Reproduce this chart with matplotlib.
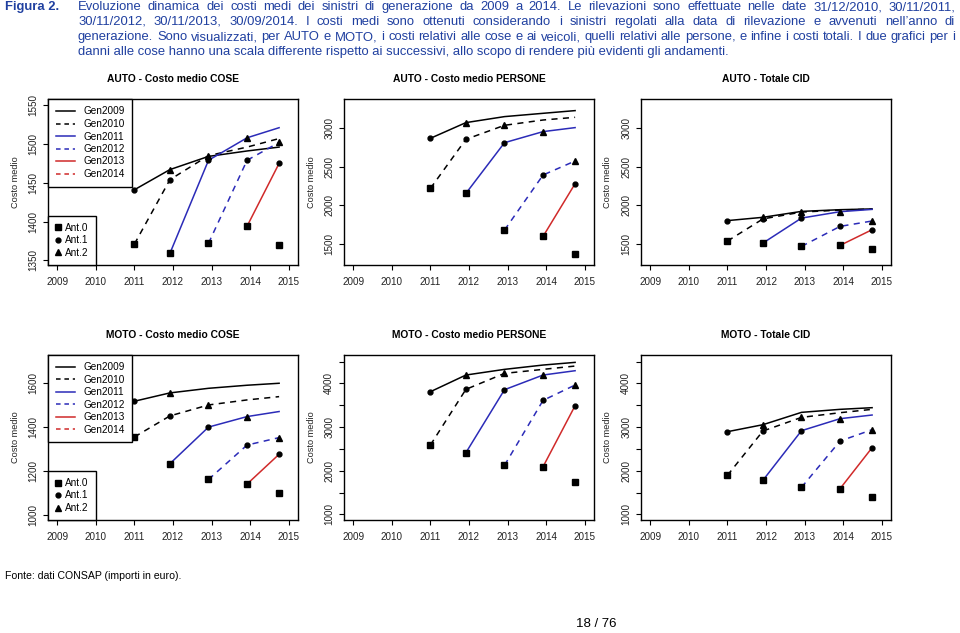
import matplotlib
matplotlib.use('Agg')
import matplotlib.pyplot as plt
from matplotlib.lines import Line2D

plt.rcParams['font.family'] = ['Liberation Sans', 'DejaVu Sans']

# dates of the observations: 31/12/2010, 30/11/2011, 30/11/2012, 30/11/2013, 30/09/2014
obs_dates = [2011.0, 2011.92, 2012.92, 2013.92, 2014.75]
year_ticks = [2009, 2010, 2011, 2012, 2013, 2014, 2015]
generations = ['Gen2009', 'Gen2010', 'Gen2011', 'Gen2012', 'Gen2013', 'Gen2014']
ant_labels = ['Ant.0', 'Ant.1', 'Ant.2']

# average cost per generation, one value per observation (from first observed)
auto_cose = [
    [1441, 1467, 1484, 1491, 1496],
    [1371, 1454, 1485, 1496, 1507],
    [1359, 1479, 1508, 1521],
    [1372, 1479, 1502],
    [1394, 1475],
    [1370],
]
auto_persone = [
    [2870, 3074, 3152, 3195, 3230],
    [2219, 2857, 3039, 3108, 3143],
    [2154, 2813, 2957, 3009],
    [1677, 2393, 2575],
    [1595, 2280],
    [1361],
]
auto_cid = [
    [1800, 1843, 1920, 1942, 1952],
    [1534, 1822, 1911, 1937, 1950],
    [1508, 1833, 1916, 1946],
    [1465, 1725, 1795],
    [1478, 1682],
    [1426],
]
moto_cose = [
    [1518, 1556, 1577, 1591, 1600],
    [1355, 1451, 1501, 1524, 1539],
    [1233, 1400, 1448, 1471],
    [1161, 1318, 1352],
    [1140, 1276],
    [1097],
]
moto_persone = [
    [3809, 4191, 4321, 4420, 4481],
    [2588, 3863, 4229, 4321, 4397],
    [2412, 3855, 4191, 4290],
    [2122, 3611, 3962],
    [2092, 3489],
    [1748],
]
moto_cid = [
    [2893, 3053, 3336, 3405, 3443],
    [1893, 2908, 3221, 3328, 3405],
    [1779, 2916, 3191, 3275],
    [1618, 2679, 2939],
    [1588, 2527],
    [1389],
]

titles = ['AUTO - Costo medio COSE', 'AUTO - Costo medio PERSONE', 'AUTO - Totale CID',
          'MOTO - Costo medio COSE', 'MOTO - Costo medio PERSONE', 'MOTO - Totale CID']
panels = [auto_cose, auto_persone, auto_cid, moto_cose, moto_persone, moto_cid]
ylims = [(1344, 1558), (1223, 3381), (1223, 3381), (976, 1729), (870, 4650), (870, 4650)]
yticks = [[1350, 1400, 1450, 1500, 1550],
          [1500, 2000, 2500, 3000],
          [1500, 2000, 2500, 3000],
          [1000, 1200, 1400, 1600],
          [1000, 1500, 2000, 2500, 3000, 3500, 4000, 4500],
          [1000, 1500, 2000, 2500, 3000, 3500, 4000, 4500]]

header_lines = [
    'Evoluzione dinamica dei costi medi dei sinistri di generazione da 2009 a 2014. Le rilevazioni sono effettuate nelle date 31/12/2010, 30/11/2011,',
    '30/11/2012, 30/11/2013, 30/09/2014. I costi medi sono ottenuti considerando i sinistri regolati alla data di rilevazione e avvenuti nell\u2019anno di',
    'generazione. Sono visualizzati, per AUTO e MOTO, i costi relativi alle cose e ai veicoli, quelli relativi alle persone, e infine i costi totali. I due grafici per i',
    'danni alle cose hanno una scala differente rispetto ai successivi, allo scopo di rendere pi\u00f9 evidenti gli andamenti.',
]

BLUE = '#2B2BB8'
RED = '#D02A2A'
gen_colors = ['black', 'black', BLUE, BLUE, RED, RED]
gen_styles = ['-', '--', '-', '--', '-', '--']
ant_markers = ['s', 'o', '^']
ant_sizes = [3.8, 3.5, 4.3]
TEXT_BLUE = '#2040A0'
HEAD_SIZE = 9.4

W, H = 960, 633
fig = plt.figure(figsize=(W / 100, H / 100), dpi=100)


def px_box(x0, y0, x1, y1):
    return [x0 / W, 1 - y1 / H, (x1 - x0) / W, (y1 - y0) / H]


def draw_line(ax, g, x, vals):
    kw = dict(color=gen_colors[g], lw=1.1)
    if gen_styles[g] == '--':
        ax.plot(x, vals, dashes=(4, 3.5), **kw)
    else:
        ax.plot(x, vals, **kw)


def plot_panel(ax, series, title, ylim, ticks):
    for g, vals in enumerate(series):
        start = len(obs_dates) - len(vals)
        x = obs_dates[start:]
        if len(vals) > 1:
            draw_line(ax, g, x, vals)
        for i, (xx, v) in enumerate(zip(x, vals)):
            ant = start + i + 1 - g
            if 0 <= ant <= 2:
                ax.plot(xx, v, marker=ant_markers[ant], ms=ant_sizes[ant], color='black',
                        ls='none', zorder=5)
    ax.set_xlim(2008.76, 2015.24)
    ax.set_ylim(*ylim)
    ax.set_xticks(year_ticks)
    ax.set_yticks(ticks)
    labels = [str(t) if (ticks[-1] - ticks[0] < 3000 or t % 1000 == 0) and t != 4500 else '' for t in ticks]
    ax.set_yticklabels(labels)
    ax.tick_params(direction='out', length=3.6, width=0.8, color='black', labelcolor='#222222',
                   labelsize=7.1)
    ax.tick_params(axis='x', pad=5)
    ax.tick_params(axis='y', pad=3.5)
    for lab in ax.get_yticklabels():
        lab.set_rotation(90)
        lab.set_va('center')
    for s in ax.spines.values():
        s.set_linewidth(1.0)
    ax.set_ylabel('Costo medio', fontsize=6.6, color='#222222', va='center')
    ax.yaxis.set_label_coords(-0.132, 0.5)
    ax.annotate(title, xy=(0.5, 1), xycoords='axes fraction', xytext=(0, 14.4),
                textcoords='offset points', ha='center', va='center',
                fontsize=7.4, fontweight='bold')


col_x = [(48, 298), (344, 594), (641, 891)]
row_y = [(99, 265), (355, 520)]
axes = []
for k in range(6):
    r, c = divmod(k, 3)
    ax = fig.add_axes(px_box(col_x[c][0], row_y[r][0], col_x[c][1], row_y[r][1]))
    plot_panel(ax, panels[k], titles[k], ylims[k], yticks[k])
    axes.append(ax)

# legends on the COSE panels
for ax in (axes[0], axes[3]):
    gen_handles = []
    for g in range(6):
        if gen_styles[g] == '--':
            h = Line2D([], [], color=gen_colors[g], lw=1.1, dashes=(3, 2.5))
        else:
            h = Line2D([], [], color=gen_colors[g], lw=1.1)
        gen_handles.append(h)
    leg1 = ax.legend(gen_handles, generations, loc='upper left', bbox_to_anchor=(0, 1),
                     borderaxespad=0, fontsize=7.2, frameon=True, fancybox=False,
                     edgecolor='black', framealpha=1, handlelength=1.9, handletextpad=0.9,
                     labelspacing=0.25, borderpad=0.75)
    leg1.get_frame().set_linewidth(1.0)
    ax.add_artist(leg1)
    ant_handles = [Line2D([], [], marker=ant_markers[a], ms=ant_sizes[a], color='black', ls='none')
                   for a in range(3)]
    leg2 = ax.legend(ant_handles, ant_labels, loc='lower left', bbox_to_anchor=(0, 0),
                     borderaxespad=0, fontsize=7.2, frameon=True, fancybox=False,
                     edgecolor='black', framealpha=1, handlelength=0.5, handletextpad=0.5,
                     labelspacing=0.25, borderpad=0.7)
    leg2.get_frame().set_linewidth(1.0)

# header, justified like the source document
renderer = fig.canvas.get_renderer()
fig.text(5 / W, 1 - 10 / H, 'Figura 2.', fontsize=HEAD_SIZE, fontweight='bold', color=TEXT_BLUE,
         va='baseline')
x_left, x_right = 78, 955
for n, line in enumerate(header_lines):
    y = 1 - (10 + 15 * n) / H
    if n == len(header_lines) - 1:
        fig.text(x_left / W, y, line, fontsize=HEAD_SIZE, color=TEXT_BLUE, va='baseline')
        continue
    words = line.split(' ')
    texts = [fig.text(0, y, w, fontsize=HEAD_SIZE, color=TEXT_BLUE, va='baseline') for w in words]
    widths = [t.get_window_extent(renderer).width for t in texts]
    gap = (x_right - x_left - sum(widths)) / (len(words) - 1)
    x = x_left
    for t, w in zip(texts, widths):
        t.set_x(x / W)
        x += w + gap

fig.text(5 / W, 1 - 576 / H, 'Fonte: dati CONSAP (importi in euro).', fontsize=7.6, va='center')
fig.text(596 / W, 1 - 624 / H, '18 / 76', fontsize=9.5, ha='center', va='center')

fig.savefig('out.png', dpi=100)
